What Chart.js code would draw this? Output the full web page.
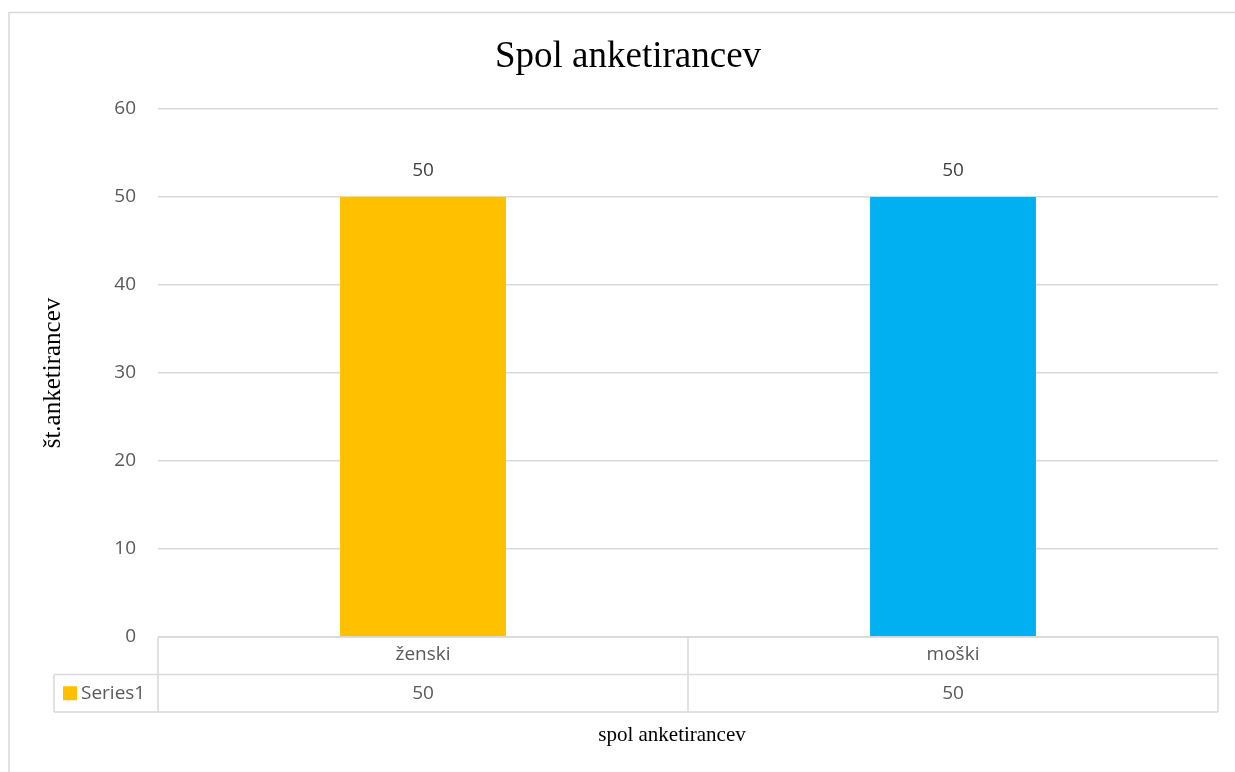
<!DOCTYPE html>
<html>
<head>
<meta charset="utf-8">
<title>Spol anketirancev</title>
<script src="https://cdn.jsdelivr.net/npm/chart.js@4/dist/chart.umd.min.js"></script>
<style>
  html, body { margin: 0; padding: 0; background: #fff; }
  #wrap { position: relative; width: 1235px; height: 772px; overflow: hidden; }
  canvas { display: block; }
</style>
</head>
<body>
<div id="wrap"><canvas id="c" width="1235" height="772"></canvas></div>
<script>
// Survey respondents by gender
const categories = ['ženski', 'moški'];
const seriesName = 'Series1';
const values = [50, 50];
const barColors = ['#FFC000', '#00B0F0'];
const yMin = 0;
const yMax = 60;
const yStep = 10;

const chartTitle = 'Spol anketirancev';
const xTitle = 'spol anketirancev';
const yTitle = 'št.anketirancev';

const gridColor = '#D9D9D9';
const tickColor = '#595959';
const sansFamily = '"Open Sans", "Noto Sans", sans-serif';
const serifFamily = '"Liberation Serif", "DejaVu Serif", serif';

// Outer chart frame (left and top edges)
const framePlugin = {
  id: 'frame',
  beforeDraw(chart) {
    const ctx = chart.ctx;
    ctx.save();
    ctx.strokeStyle = gridColor;
    ctx.lineWidth = 1.5;
    ctx.beginPath();
    ctx.moveTo(9, chart.height + 2);
    ctx.lineTo(9, 12.5);
    ctx.lineTo(chart.width + 2, 12.5);
    ctx.stroke();
    ctx.restore();
  }
};

// Value labels above bars, the data table under the category axis and the axis caption
const tablePlugin = {
  id: 'dataTable',
  afterDraw(chart) {
    const ctx = chart.ctx;
    const area = chart.chartArea;
    const xs = chart.scales.x;
    const n = categories.length;
    const catW = (area.right - area.left) / n;
    const rowH = 37.5;
    const row1 = area.bottom;
    const row2 = row1 + rowH;
    const row3 = row2 + rowH;
    const keyLeft = 54;

    ctx.save();
    // value labels
    const meta = chart.getDatasetMeta(0);
    ctx.fillStyle = '#404040';
    ctx.font = '19px ' + sansFamily;
    ctx.textAlign = 'center';
    ctx.textBaseline = 'middle';
    meta.data.forEach((bar, i) => {
      ctx.fillText(String(values[i]), bar.x, bar.y - 26);
    });

    // table lines
    ctx.strokeStyle = gridColor;
    ctx.lineWidth = 1.5;
    ctx.beginPath();
    ctx.moveTo(area.left, row1); ctx.lineTo(area.right, row1);
    ctx.moveTo(keyLeft, row2); ctx.lineTo(area.right, row2);
    ctx.moveTo(keyLeft, row3); ctx.lineTo(area.right, row3);
    ctx.moveTo(keyLeft, row2); ctx.lineTo(keyLeft, row3);
    for (let i = 0; i <= n; i++) {
      const xx = area.left + i * catW;
      ctx.moveTo(xx, row1); ctx.lineTo(xx, row3);
    }
    ctx.stroke();

    // series row values
    ctx.fillStyle = tickColor;
    ctx.font = '19px ' + sansFamily;
    ctx.textAlign = 'center';
    ctx.textBaseline = 'middle';
    values.forEach((v, i) => {
      ctx.fillText(String(v), xs.getPixelForValue(i), (row2 + row3) / 2);
    });

    // legend key cell
    ctx.fillStyle = barColors[0];
    ctx.fillRect(keyLeft + 9, (row2 + row3) / 2 - 7, 14, 14);
    ctx.fillStyle = tickColor;
    ctx.textAlign = 'left';
    ctx.fillText(seriesName, keyLeft + 27, (row2 + row3) / 2);

    // category axis caption, centred under the table block
    ctx.fillStyle = '#000';
    ctx.font = '21px ' + serifFamily;
    ctx.textAlign = 'center';
    ctx.fillText(xTitle, (area.left + area.right) / 2 - 16, row3 + 23);
    ctx.restore();
  }
};

new Chart(document.getElementById('c'), {
  type: 'bar',
  data: {
    labels: categories,
    datasets: [{
      label: seriesName,
      data: values,
      backgroundColor: barColors,
      borderWidth: 0,
      categoryPercentage: 1,
      barPercentage: 0.313
    }]
  },
  options: {
    responsive: false,
    animation: false,
    events: [],
    layout: { padding: { left: 38, right: 17, top: 0, bottom: 0 } },
    plugins: {
      legend: { display: false },
      tooltip: { enabled: false },
      title: {
        display: true,
        text: chartTitle,
        color: '#000',
        font: { family: serifFamily, size: 37, weight: 'normal' },
        padding: { top: 34.8, bottom: 29.8 }
      }
    },
    scales: {
      y: {
        min: yMin,
        max: yMax,
        afterFit(scale) { scale.width = 120; },
        ticks: {
          stepSize: yStep,
          color: tickColor,
          font: { family: sansFamily, size: 19 },
          padding: 22
        },
        grid: { color: gridColor, lineWidth: 1.5, drawTicks: false },
        border: { display: false },
        title: {
          display: true,
          text: yTitle,
          color: '#000',
          font: { family: serifFamily, size: 25 },
          padding: { top: 0, bottom: 0 }
        }
      },
      x: {
        afterFit(scale) { scale.height = 135; },
        ticks: {
          color: tickColor,
          font: { family: sansFamily, size: 19 },
          padding: 6
        },
        grid: { display: false, drawTicks: false },
        border: { display: false }
      }
    }
  },
  plugins: [framePlugin, tablePlugin]
});
</script>
</body>
</html>
